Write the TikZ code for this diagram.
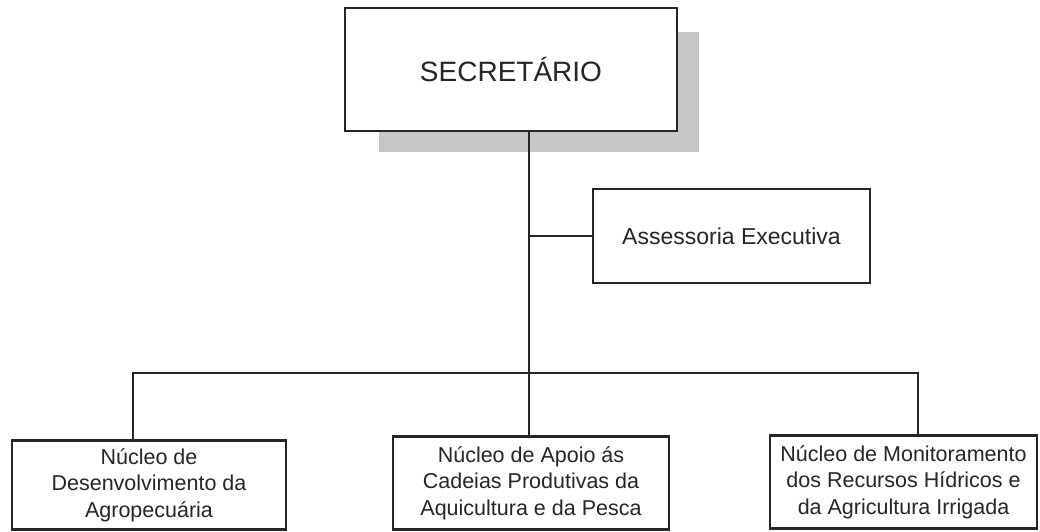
\documentclass[tikz,border=0pt]{standalone}
\usepackage{fontspec}
\setmainfont{Liberation Sans}
\begin{document}
\begin{tikzpicture}[x=1pt, y=-1pt,
    orgbox/.style={draw=black!85, line width=2.4pt, fill=white, inner sep=0pt,
        align=center, text=black!85},
    link/.style={draw=black!85, line width=2.2pt}]
    \useasboundingbox (0,0) rectangle (1040,532);

    % Secretario with its shadow
    \fill[gray!45] (379,32) rectangle (699,152);
    \node[orgbox, minimum width=332pt, minimum height=123pt,
        font=\fontsize{28}{32}\selectfont] (sec) at (511,69.5) {SECRET\'ARIO};

    % Assessoria
    \node[orgbox, minimum width=277pt, minimum height=94pt,
        font=\fontsize{23}{27}\selectfont] (assess) at (731.5,236) {Assessoria Executiva};

    % Nucleos
    \node[orgbox, minimum width=274pt, minimum height=89pt,
        font=\fontsize{21.5}{26.5}\selectfont] (left) at (149,485)
        {N\'ucleo de\\Desenvolvimento da\\Agropecu\'aria};
    \node[orgbox, minimum width=276pt, minimum height=93pt,
        font=\fontsize{21.5}{26.5}\selectfont] (mid) at (531,483)
        {N\'ucleo de Apoio \'as\\Cadeias Produtivas da\\Aquicultura e da Pesca};
    \node[orgbox, minimum width=267pt, minimum height=93pt,
        font=\fontsize{21.5}{26.5}\selectfont] (right) at (903.5,482)
        {N\'ucleo de Monitoramento\\dos Recursos H\'idricos e\\da Agricultura Irrigada};

    % Lines
    \coordinate (bus) at (529,373);
    \coordinate (lt) at (133,373);
    \coordinate (rt) at (918,373);
    \draw[link] (sec.south -| bus) -- (bus);
    \draw[link] (assess.west) -- (assess.west -| bus);
    \draw[link] (lt |- left.north) -- (lt) -- (rt) -- (rt |- right.north);
    \draw[link] (bus) -- (bus |- mid.north);
\end{tikzpicture}
\end{document}
